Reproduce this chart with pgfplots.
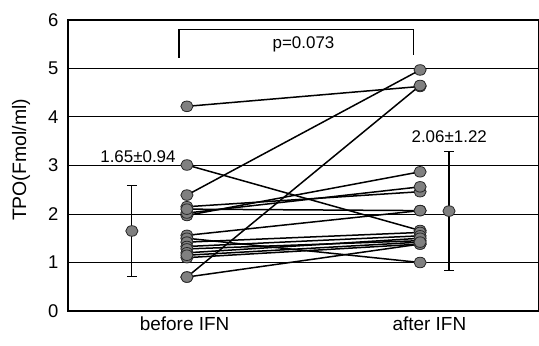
\documentclass[border=0pt]{standalone}
\usepackage{fontspec}
\setmainfont{Liberation Sans}
\usepackage{pgfplots}
\pgfplotsset{compat=1.18}
\begin{document}
\begin{tikzpicture}
\pgfplotsset{
  pair/.style={black, line width=1.5bp, mark=*, mark size=5.3bp,
    mark options={fill=black!50, draw=black!85, line width=0.8bp, xscale=1.15, solid}},
}
\begin{axis}[
  name=ax,
  scale only axis,
  width=471bp, height=291bp,
  xmin=0.49, xmax=2.51, ymin=0, ymax=6,
  xtick={0.99,2.04}, xticklabels={before IFN, after IFN},
  ytick={0,1,2,3,4,5,6},
  major tick length=0pt,
  ymajorgrids, grid style={black, line width=1bp},
  axis line style={black, line width=1.3bp},
  /pgf/number format/assume math mode=true,
  ticklabel style={font=\fontsize{18.5}{20}\selectfont},
  yticklabel style={xshift=-6bp},
  xticklabel style={font=\fontsize{19}{21}\selectfont, yshift=-2bp},
  ylabel={TPO(Fmol/ml)},
  ylabel style={font=\fontsize{19.5}{21}\selectfont, at={(axis description cs:-0.0998,0.519)}, anchor=center},
  clip=false,
]
% individual subjects: before (x=1) -> after (x=2)
\addplot[pair] coordinates {(1,4.22) (2,4.63)};
\addplot[pair] coordinates {(1,0.70) (2,4.65)};
\addplot[pair] coordinates {(1,2.39) (2,4.97)};
\addplot[pair] coordinates {(1,3.01) (2,1.66)};
\addplot[pair] coordinates {(1,1.97) (2,2.87)};
\addplot[pair] coordinates {(1,2.15) (2,2.46)};
\addplot[pair] coordinates {(1,2.02) (2,2.56)};
\addplot[pair] coordinates {(1,2.10) (2,2.07)};
\addplot[pair] coordinates {(1,1.56) (2,2.07)};
\addplot[pair] coordinates {(1,1.50) (2,1.00)};
\addplot[pair] coordinates {(1,1.42) (2,1.62)};
\addplot[pair] coordinates {(1,1.33) (2,1.55)};
\addplot[pair] coordinates {(1,1.28) (2,1.45)};
\addplot[pair] coordinates {(1,1.20) (2,1.50)};
\addplot[pair] coordinates {(1,1.10) (2,1.38)};
\addplot[pair] coordinates {(1,0.70) (2,1.38)};
\addplot[pair] coordinates {(1,1.15) (2,1.42)};
% means with SD
\addplot[black, line width=1.1bp, only marks, mark=*, mark size=5.3bp,
  mark options={fill=black!50, draw=black!85, line width=0.8bp, xscale=1.15},
  error bars/.cd, y dir=both, y explicit,
  error bar style={black, line width=1.1bp},
  error mark options={rotate=90, mark size=5bp, black, line width=1.1bp}]
  coordinates {(0.764,1.65) +- (0,0.94) (2.124,2.06) +- (0,1.22)};
% significance bracket
\addplot[black, line width=1.1bp] coordinates {(0.966,5.22) (0.966,5.8) (1.97,5.8) (1.97,5.28)};
\node[font=\fontsize{17}{19}\selectfont] at (axis cs:1.50,5.49) {p=0.073};
\node[font=\fontsize{17}{19}\selectfont] at (axis cs:0.79,3.19) {1.65±0.94};
\node[font=\fontsize{17}{19}\selectfont] at (axis cs:2.125,3.60) {2.06±1.22};
\end{axis}
\pgfresetboundingbox
\path[use as bounding box] ([shift={(-68bp,-35bp)}]ax.south west) rectangle ([shift={(471bp,311bp)}]ax.south west);
\end{tikzpicture}
\end{document}
